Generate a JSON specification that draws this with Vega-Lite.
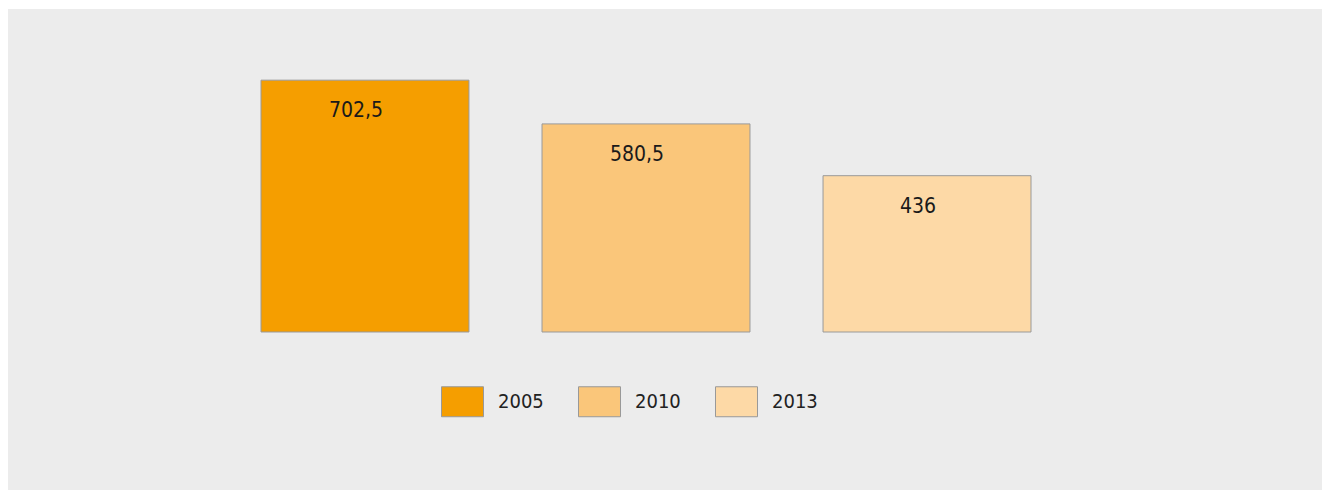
{
  "$schema": "https://vega.github.io/schema/vega-lite/v6.json",
  "width": 1314,
  "height": 481,
  "autosize": {"type": "none"},
  "padding": {"left": 8, "top": 9, "right": 0, "bottom": 0},
  "background": "#ffffff",
  "config": {"view": {"fill": "#ececec", "stroke": null}},
  "data": {
    "values": [
      {"year": "2005", "value": 702.5, "label": "702,5"},
      {"year": "2010", "value": 580.5, "label": "580,5"},
      {"year": "2013", "value": 436, "label": "436"}
    ]
  },
  "encoding": {
    "x": {"field": "year", "type": "nominal", "axis": null, "scale": {"range": [253, 1023], "paddingInner": 0.26, "paddingOuter": 0}},
    "y": {"field": "value", "type": "quantitative", "axis": null, "scale": {"domain": [0, 901], "range": [323, 0], "nice": false}}
  },
  "layer": [
    {
      "mark": {"type": "bar", "stroke": "#999999", "strokeWidth": 1},
      "encoding": {
        "fill": {
          "field": "year",
          "type": "nominal",
          "scale": {"domain": ["2005", "2010", "2013"], "range": ["#f59e00", "#fac67a", "#fdd9a6"]},
          "legend": {
            "title": null,
            "orient": "none",
            "legendX": 433,
            "legendY": 371,
            "direction": "horizontal",
            "symbolType": "M-1,-0.714H1V0.714H-1Z",
            "symbolSize": 1764,
            "symbolStrokeColor": "#999999",
            "symbolStrokeWidth": 1,
            "symbolOpacity": 1,
            "labelFont": "DejaVu Sans Condensed",
            "labelFontSize": 20,
            "labelColor": "#222222",
            "labelOffset": 14,
            "columnPadding": 32,
            "padding": 0,
            "labelLimit": 0
          }
        }
      }
    },
    {
      "mark": {"type": "text", "dx": -9, "dy": 31, "baseline": "middle", "font": "DejaVu Sans Condensed", "fontSize": 21, "color": "#1a1a1a"},
      "encoding": {"text": {"field": "label"}}
    }
  ]
}
